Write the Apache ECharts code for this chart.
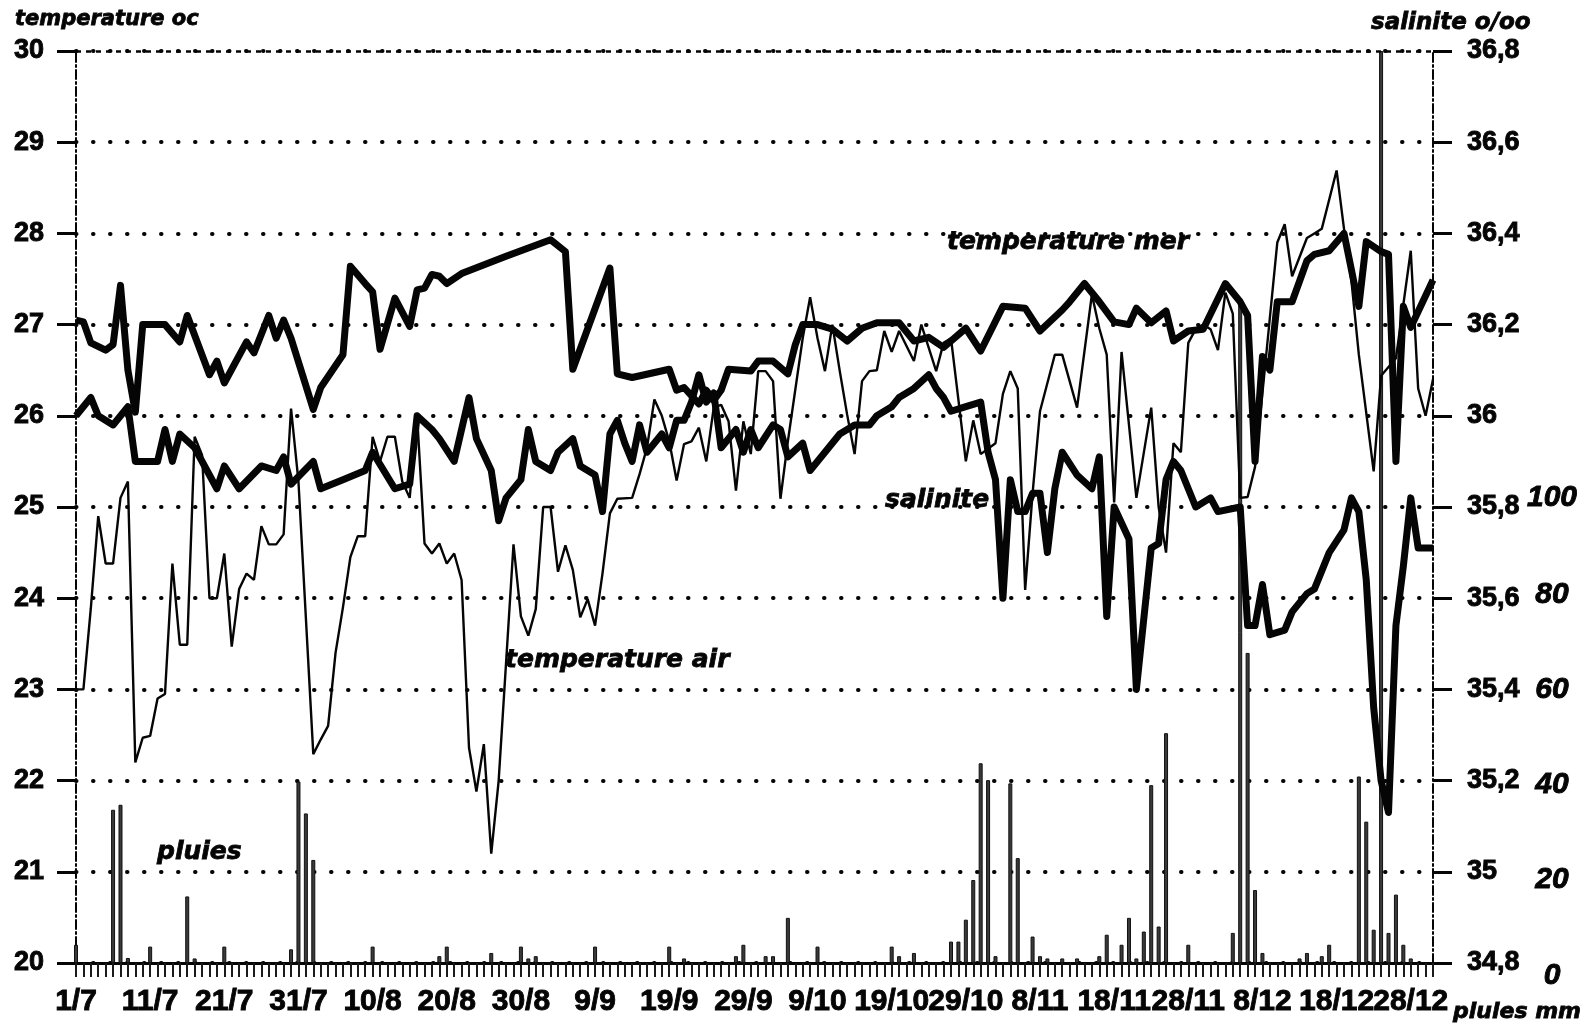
<!DOCTYPE html>
<html><head><meta charset="utf-8">
<script src="https://cdn.jsdelivr.net/npm/echarts@6/dist/echarts.min.js"></script>
<style>html,body{margin:0;padding:0;background:#fff}#c{width:1594px;height:1025px}</style>
</head><body><div id="c"></div>
<script>
// ---- categories: days from 1/7 to 31/12 ----
const monthLengths = [[7,31],[8,31],[9,30],[10,31],[11,30],[12,31]];
const dayLabels = [];
for (const [m, n] of monthLengths) for (let d = 1; d <= n; d++) dayLabels.push(d + '/' + m);

// ---- temperature mer (°C, left axis) : day index / value ----
const merDays = [0,1,2,4,5,6,7,8,9,12,14,15,18,19,20,23,24,26,27,28,29,32,33,36,37,39,40,41,43,45,46,47,48,49,50,52,58,64,66,67,72,73,75,80,81,82,84,85,86,87,88,91,92,94,96,97,98,100,102,104,106,108,111,113,115,117,120,122,125,128,130,133,134,136,138,140,142,143,145,147,148,150,152,155,157,158,159,160,161,162,164,166,167,169,171,173,174,176,177,178,179,180,183];
const merTemp = [27.05,27.03,26.8,26.72,26.78,27.43,26.5,26.04,27.0,27.0,26.81,27.1,26.45,26.6,26.36,26.81,26.69,27.1,26.85,27.05,26.85,26.07,26.31,26.67,27.64,27.45,27.36,26.73,27.29,26.98,27.38,27.4,27.55,27.53,27.45,27.56,27.75,27.93,27.8,26.51,27.62,26.46,26.42,26.51,26.28,26.31,26.13,26.28,26.17,26.28,26.51,26.49,26.6,26.6,26.46,26.78,27.0,27.0,26.95,26.82,26.96,27.02,27.02,26.82,26.86,26.75,26.96,26.71,27.2,27.18,26.93,27.16,27.25,27.45,27.25,27.03,27.0,27.18,27.02,27.15,26.82,26.93,26.95,27.45,27.25,27.1,25.5,26.65,26.5,27.25,27.25,27.7,27.77,27.81,28.0,27.2,27.91,27.8,27.77,25.5,27.2,26.97,27.49];

// ---- temperature air (°C, left axis) ----
const airDays = [0,1,2,3,4,5,6,7,8,9,10,11,12,13,14,15,16,17,18,19,20,21,22,23,24,25,26,27,28,29,30,32,33,34,35,36,37,38,39,40,41,42,43,44,45,46,47,48,49,50,51,52,53,54,55,56,57,59,60,61,62,63,64,65,66,67,68,69,70,71,72,73,75,76,77,78,79,80,81,82,83,84,85,86,87,88,89,90,91,92,93,94,95,96,98,99,100,101,102,103,104,105,106,107,108,109,110,111,113,114,116,117,118,120,121,122,124,125,126,127,128,129,130,132,133,135,137,138,139,140,141,143,145,146,147,148,149,150,151,152,153,154,155,156,157,158,159,160,162,163,164,166,167,168,170,171,172,173,175,176,178,180,181,182,183];
const airTemp = [23.0,23.0,23.89,24.9,24.38,24.38,25.1,25.28,22.2,22.47,22.49,22.9,22.95,24.38,23.49,23.49,25.77,25.57,24.0,24.0,24.49,23.47,24.1,24.27,24.2,24.79,24.59,24.59,24.7,26.08,25.28,22.29,22.45,22.6,23.4,23.9,24.45,24.68,24.68,25.77,25.5,25.77,25.77,25.28,25.1,26.0,24.6,24.49,24.6,24.38,24.49,24.2,22.36,21.88,22.4,21.2,22.0,24.59,23.8,23.59,23.88,25.0,25.0,24.29,24.58,24.31,23.79,23.99,23.7,24.27,24.93,25.09,25.1,25.36,25.65,26.18,26.0,25.72,25.29,25.69,25.72,25.87,25.5,26.09,26.12,25.94,25.18,25.94,25.58,26.49,26.49,26.38,25.09,25.72,26.85,27.3,26.85,26.49,27.0,26.49,26.01,25.58,26.38,26.49,26.5,26.93,26.7,26.93,26.6,27.0,26.49,26.8,26.85,25.5,25.95,25.58,25.7,26.24,26.49,26.3,24.09,25.15,26.05,26.67,26.67,26.09,27.33,26.96,26.67,25.05,26.7,25.1,26.09,25.0,24.5,25.7,25.6,26.8,26.95,27.0,26.95,26.72,27.35,27.12,25.1,25.11,25.44,26.25,27.9,28.1,27.53,27.95,28.0,28.05,28.69,28.05,27.48,26.67,25.39,26.44,26.63,27.81,26.3,26.0,26.4];

// ---- salinite (o/oo, right axis) ----
const salDays = [0,2,3,5,7,8,11,12,13,14,16,19,20,22,25,27,28,29,32,33,36,39,40,43,45,46,48,49,51,53,54,56,57,58,60,61,62,64,65,67,68,70,71,72,73,74,75,76,77,79,80,81,82,83,84,85,86,87,89,90,91,92,94,95,96,98,99,101,103,105,107,108,110,111,113,115,116,117,118,120,122,123,124,125,126,127,128,129,130,131,132,133,135,137,138,139,140,142,143,145,146,147,148,149,150,151,153,154,157,158,159,160,161,163,164,166,167,169,171,172,173,174,175,176,177,178,179,180,181,183];
const salValues = [36.0,36.04,36.0,35.98,36.02,35.9,35.9,35.97,35.9,35.96,35.93,35.84,35.89,35.84,35.89,35.88,35.91,35.85,35.9,35.84,35.86,35.88,35.92,35.84,35.85,36.0,35.97,35.95,35.9,36.04,35.95,35.88,35.77,35.82,35.86,35.97,35.9,35.88,35.92,35.95,35.89,35.87,35.79,35.96,35.99,35.94,35.9,35.98,35.92,35.96,35.93,35.99,35.99,36.03,36.09,36.03,36.05,35.93,35.97,35.92,35.97,35.93,35.98,35.97,35.91,35.94,35.88,35.92,35.96,35.98,35.98,36.0,36.02,36.04,36.06,36.09,36.06,36.04,36.01,36.02,36.03,35.92,35.86,35.6,35.86,35.79,35.79,35.83,35.83,35.7,35.84,35.92,35.87,35.84,35.91,35.56,35.8,35.73,35.4,35.71,35.72,35.86,35.9,35.88,35.84,35.8,35.82,35.79,35.8,35.54,35.54,35.63,35.52,35.53,35.57,35.61,35.62,35.7,35.75,35.82,35.79,35.64,35.36,35.2,35.13,35.54,35.67,35.82,35.71,35.71];

// ---- pluies (mm, rain axis) ----
const rainDays = [0,5,6,7,10,15,16,20,29,30,31,32,40,49,50,56,60,61,62,70,80,82,89,90,93,94,96,100,110,111,113,118,119,120,121,122,123,124,126,127,129,130,131,133,135,138,139,141,142,143,144,145,146,147,150,156,157,158,159,160,165,166,168,169,173,174,175,176,177,178,179,180];
const rainMm = [4,33.6,34.7,1.1,3.6,14.6,1,3.6,3,39.8,32.8,22.6,3.6,1.5,3.6,2.2,3.6,1,1.5,3.6,3.6,1,1.5,4,1.5,1.5,9.9,3.6,3.6,1.5,2.2,4.7,4.7,9.5,18.2,43.8,40.1,1.5,39.4,23,5.8,1.5,1,1,1,1.5,6.2,4,9.9,1,6.9,39,8,50.4,4,6.6,145,68,16,2.2,1,2.2,1.5,4,40.9,31,7.3,200,6.6,15,4,1];

// ---- tick labels ----
const tempTicks = {min: 20, max: 30, interval: 1};
const salTicks = {min: 34.8, max: 36.8, interval: 0.2};
const rainTicks = {min: 0, max: 200, interval: 20, labelMax: 100};
const dateLabelEvery = 10;

const pair = (days, vals) => days.map((d, i) => [d, vals[i]]);
const numFont = 'Liberation Sans';
const ink = '#050505';
const heavy = {textBorderColor: ink, textBorderWidth: 0.9};

// small vertical nudges of the hand-placed rain tick labels (style only)
const rainRich = {};
const rainShift = {0: 13, 20: 8, 40: 4, 60: 0, 80: -3, 100: -9};
for (const k in rainShift) {
  const s = rainShift[k];
  rainRich['r' + k] = Object.assign({fontFamily: numFont, fontWeight: 'bold', fontStyle: 'italic', fontSize: 30, color: ink,
    padding: s >= 0 ? [2 * s, 0, 0, 0] : [0, 0, -2 * s, 0]}, heavy);
}

const txt = (text, x, y, size) => ({type: 'text', x: x, y: y, style: {text: text,
  font: 'italic bold ' + size + 'px "DejaVu Sans"', fill: ink, stroke: ink, lineWidth: 0.8,
  align: 'left', verticalAlign: 'middle', textAlign: 'left', textVerticalAlign: 'middle'}});

const chart = echarts.init(document.getElementById('c'), null, {renderer: 'canvas'});
chart.setOption({
  backgroundColor: '#ffffff',
  animation: false,
  grid: {left: 76, right: 161, top: 51, bottom: 62},
  xAxis: {
    type: 'category', data: dayLabels, boundaryGap: false,
    axisLine: {lineStyle: {color: ink, width: 3}},
    axisTick: {interval: 0, length: 14, lineStyle: {color: '#1a1a1a', width: 2}},
    axisLabel: Object.assign({interval: 0, color: ink, fontFamily: numFont, fontWeight: 'bold', fontSize: 30, margin: 24,
      formatter: (v, idx) => (idx % dateLabelEvery === 0 ? v : '')}, heavy),
    splitLine: {show: false}
  },
  yAxis: [
    {
      type: 'value', min: tempTicks.min, max: tempTicks.max, interval: tempTicks.interval, position: 'left',
      axisLine: {show: true, lineStyle: {color: ink, width: 2, type: [9, 3, 2, 3]}},
      axisTick: {show: true, length: 19, lineStyle: {color: ink, width: 3}},
      axisLabel: Object.assign({color: ink, fontFamily: numFont, fontWeight: 'bold', fontSize: 27, margin: 32}, heavy),
      splitLine: {show: true, lineStyle: {color: ink, width: 4, type: [0.5, 16.5], cap: 'round'}}
    },
    {
      type: 'value', min: salTicks.min, max: salTicks.max, interval: salTicks.interval, position: 'right',
      axisLine: {show: true, lineStyle: {color: ink, width: 2, type: [9, 3, 2, 3]}},
      axisTick: {show: true, length: 19, lineStyle: {color: ink, width: 3}},
      axisLabel: Object.assign({color: ink, fontFamily: numFont, fontWeight: 'bold', fontSize: 27, margin: 34,
        formatter: v => String(Number(v.toFixed(1))).replace('.', ',')}, heavy),
      splitLine: {show: false}
    },
    {
      type: 'value', min: rainTicks.min, max: rainTicks.max, interval: rainTicks.interval, position: 'right',
      axisLine: {show: false}, axisTick: {show: false}, splitLine: {show: false},
      axisLabel: {color: ink, fontFamily: numFont, fontWeight: 'bold', fontStyle: 'italic', fontSize: 30,
        margin: 119, align: 'center', rich: rainRich,
        formatter: v => (v <= rainTicks.labelMax ? '{r' + v + '|' + v + '}' : '')}
    }
  ],
  graphic: [
    txt('temperature oc', 15, 20, 21),
    txt('salinite o/oo', 1371, 23, 23),
    txt('temperature mer', 947, 242, 25),
    txt('salinite', 885, 500, 25),
    txt('temperature air', 505, 660, 25),
    txt('pluies', 157, 852, 25),
    txt('pluies mm', 1453, 1012, 22)
  ],
  series: [
    {name: 'pluies', type: 'bar', yAxisIndex: 2, data: pair(rainDays, rainMm), barWidth: 4,
      itemStyle: {color: '#3a3a3a', borderColor: '#101010', borderWidth: 1}, z: 1},
    {name: 'temperature air', type: 'line', yAxisIndex: 0, data: pair(airDays, airTemp), showSymbol: false,
      lineStyle: {color: ink, width: 2.4}, z: 3,
      markLine: {silent: true, symbol: 'none', label: {show: false},
        lineStyle: {color: ink, width: 2.5, type: [5, 5]}, data: [{yAxis: tempTicks.max}]}},
    {name: 'salinite', type: 'line', yAxisIndex: 1, data: pair(salDays, salValues), showSymbol: false,
      lineStyle: {color: ink, width: 7, join: 'round'}, z: 4},
    {name: 'temperature mer', type: 'line', yAxisIndex: 0, data: pair(merDays, merTemp), showSymbol: false,
      lineStyle: {color: ink, width: 7, join: 'round'}, z: 4}
  ]
});
</script></body></html>
